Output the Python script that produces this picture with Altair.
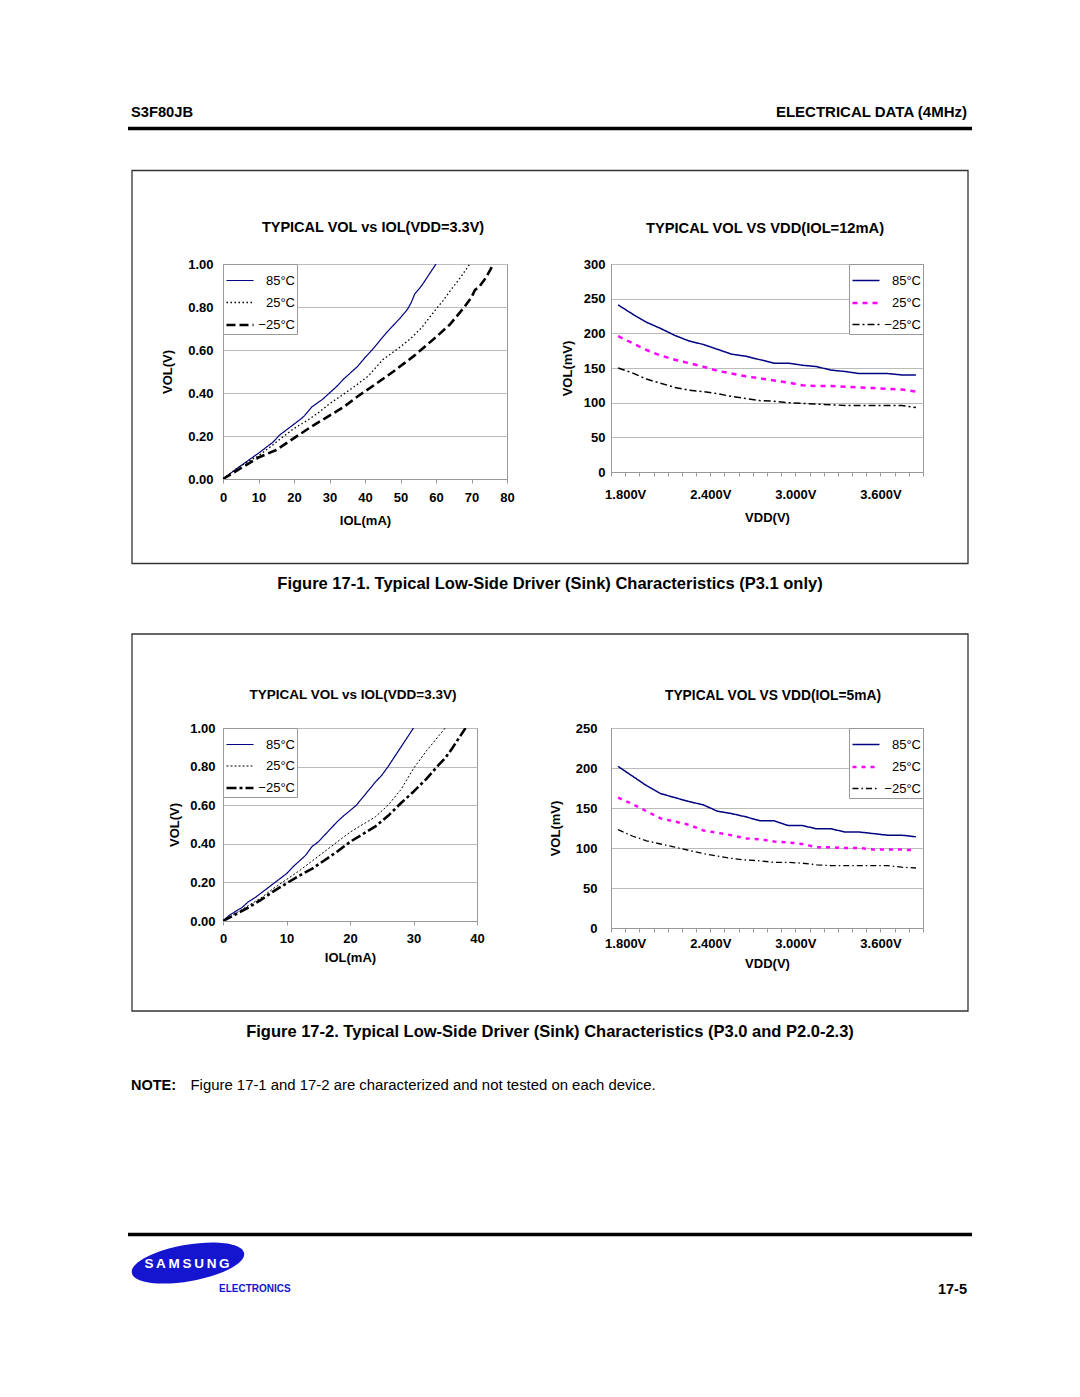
import altair as alt
import pandas as pd

FONT = "Liberation Sans"
TEMPS = ["85°C", "25°C", "−25°C"]

# ---------------- Figure 17-1 (left): VOL vs IOL, VDD=3.3V ----------------
F1L_IOL_85 = [0, 2, 4, 6, 8, 10, 12, 14, 16, 18, 20, 22, 23, 25, 28, 30, 32, 34, 36, 38,
              40, 42, 44, 46, 48, 50, 52, 53, 54, 56, 58, 60]
F1L_VOL_85 = [0, 0.025, 0.05, 0.073, 0.097, 0.12, 0.145, 0.17, 0.205, 0.23, 0.255, 0.28,
              0.295, 0.335, 0.37, 0.40, 0.43, 0.465, 0.495, 0.525, 0.565, 0.60, 0.64, 0.68,
              0.715, 0.75, 0.79, 0.82, 0.86, 0.90, 0.95, 1.0]
F1L_IOL_25 = [0, 4, 8, 10, 13, 16, 18, 20, 24, 27, 30, 34, 37, 41, 45, 50, 53, 56, 60, 62,
              64, 67, 69.5]
F1L_VOL_25 = [0, 0.05, 0.09, 0.108, 0.145, 0.185, 0.21, 0.235, 0.275, 0.31, 0.35, 0.395,
              0.43, 0.48, 0.555, 0.615, 0.655, 0.705, 0.79, 0.83, 0.875, 0.94, 1.0]
F1L_IOL_M25 = [0, 5, 10, 15, 20, 25, 30, 34, 38, 42, 48, 54, 60, 64, 66, 68, 70, 71, 72, 74, 76.2]
F1L_VOL_M25 = [0, 0.05, 0.10, 0.135, 0.19, 0.245, 0.295, 0.335, 0.385, 0.43, 0.50, 0.575,
               0.66, 0.72, 0.76, 0.80, 0.845, 0.88, 0.89, 0.935, 1.0]

# ---------------- VDD categories (both right-hand charts) ----------------
VDD = [1.8, 1.9, 2.0, 2.1, 2.2, 2.3, 2.4, 2.5, 2.6, 2.7, 2.8, 2.9, 3.0, 3.1, 3.2, 3.3,
       3.4, 3.5, 3.6, 3.7, 3.8, 3.9]
VDD_TICKS = [1.75, 1.85, 1.95, 2.05, 2.15, 2.25, 2.35, 2.45, 2.55, 2.65, 2.75, 2.85,
             2.95, 3.05, 3.15, 3.25, 3.35, 3.45, 3.55, 3.65, 3.75, 3.85, 3.95]
VDD_LABEL_AT = [1.85, 2.45, 3.05, 3.65]
VDD_LABELS = ["1.800V", "2.400V", "3.000V", "3.600V"]

# ---------------- Figure 17-1 (right): VOL vs VDD, IOL=12mA ----------------
F1R_85 = [241, 228, 216, 207, 197, 189, 184, 177, 170, 167, 162, 157, 157, 154, 152, 147,
          145, 142, 142, 142, 140, 140]
F1R_25 = [196, 186, 176, 168, 162, 157, 152, 146, 142, 138, 135, 132, 129, 125, 124, 124,
          123, 122, 121, 120, 119, 116]
F1R_M25 = [150, 143, 134, 128, 122, 118, 116, 113, 109, 106, 103, 102, 100, 99, 98, 97,
           96, 96, 96, 96, 96, 93]

# ---------------- Figure 17-2 (left): VOL vs IOL, VDD=3.3V ----------------
F2L_IOL_85 = [0, 1, 2, 3, 4, 5, 6, 7, 8, 9, 10, 11, 12, 13, 14, 15, 16, 17, 18, 19, 20,
              21, 22, 23, 24, 25, 26, 27, 28, 29, 30]
F2L_VOL_85 = [0, 0.03, 0.05, 0.07, 0.1, 0.12, 0.145, 0.17, 0.195, 0.22, 0.245, 0.28, 0.31,
              0.34, 0.385, 0.41, 0.445, 0.48, 0.515, 0.545, 0.572, 0.60, 0.64, 0.68, 0.72,
              0.755, 0.80, 0.85, 0.90, 0.95, 1.0]
F2L_IOL_25 = [0, 2, 4, 6, 8, 10, 12, 14, 16, 18, 20, 22, 24, 26, 28, 30, 32, 34, 35]
F2L_VOL_25 = [0, 0.04, 0.08, 0.12, 0.17, 0.215, 0.26, 0.31, 0.36, 0.41, 0.46, 0.50, 0.54,
              0.60, 0.68, 0.79, 0.88, 0.96, 1.0]
F2L_IOL_M25 = [0, 2, 4, 6, 8, 10, 12, 14, 16, 18, 20, 22, 24, 26, 28, 30, 32, 34, 35, 36,
               37, 38.2]
F2L_VOL_M25 = [0, 0.035, 0.07, 0.11, 0.155, 0.195, 0.235, 0.27, 0.315, 0.36, 0.41, 0.45,
               0.49, 0.545, 0.61, 0.67, 0.735, 0.81, 0.845, 0.89, 0.94, 1.0]

# ---------------- Figure 17-2 (right): VOL vs VDD, IOL=5mA ----------------
F2R_85 = [202, 190, 178, 168, 163, 158, 154, 146, 143, 139, 134, 134, 128, 128, 124, 124,
          120, 120, 118, 116, 116, 114]
F2R_25 = [163, 155, 146, 137, 133, 129, 122, 119, 116, 112, 111, 108, 107, 105, 101, 101,
          100, 100, 98, 98, 98, 97]
F2R_M25 = [123, 115, 109, 105, 101, 97, 93, 90, 87, 85, 84, 82, 82, 81, 79, 78, 78, 78,
           78, 78, 76, 75]

VOL_TICKS = [0, 0.2, 0.4, 0.6, 0.8, 1.0]
IOL80_TICKS = [0, 10, 20, 30, 40, 50, 60, 70, 80]
IOL40_TICKS = [0, 10, 20, 30, 40]
MV300_TICKS = [0, 50, 100, 150, 200, 250, 300]
MV250_TICKS = [0, 50, 100, 150, 200, 250]


def series_df(xs_list, ys_list):
    rows = []
    for t, xs, ys in zip(TEMPS, xs_list, ys_list):
        for a, b in zip(xs, ys):
            rows.append({"x": a, "y": b, "T": t})
    return pd.DataFrame(rows)


def axis(**kw):
    base = dict(labelFont=FONT, labelFontWeight="bold", labelColor="black",
                titleFont=FONT, titleFontWeight="bold", titleColor="black",
                domainColor="#999", tickColor="#999", gridColor="#bbb",
                labelFlush=False, labelOverlap=False)
    base.update(kw)
    return alt.Axis(**base)


def make_legend(orient):
    return alt.Legend(title=None, orient=orient, offset=0, padding=2,
                      fillColor="white", strokeColor="#999", symbolType="stroke",
                      symbolSize=729, labelFont=FONT, labelFontSize=13,
                      labelColor="black", labelAlign="right", labelOffset=40,
                      rowPadding=-7)


def line_chart(df, xenc, yenc, colors, dashes, widths, orient, w, h,
               title, tsize, toffset, tdx):
    leg = make_legend(orient)
    return alt.Chart(df).mark_line(clip=True, strokeCap="butt", strokeJoin="round").encode(
        x=xenc,
        y=yenc,
        color=alt.Color("T:N", scale=alt.Scale(domain=TEMPS, range=colors), legend=leg),
        strokeDash=alt.StrokeDash("T:N", scale=alt.Scale(domain=TEMPS, range=dashes),
                                  legend=leg),
        strokeWidth=alt.StrokeWidth("T:N", scale=alt.Scale(type="ordinal", domain=TEMPS,
                                                           range=widths), legend=leg),
    ).properties(
        width=w, height=h,
        title=alt.TitleParams(text=title, anchor="middle", frame="group", offset=toffset,
                              dx=tdx, baseline="alphabetic", font=FONT, fontSize=tsize,
                              fontWeight="bold", color="black"),
    )


def iol_x(maxv, ticks, lpad, tpad):
    return alt.X("x:Q", scale=alt.Scale(domain=[0, maxv], nice=False, zero=False),
                 axis=axis(values=ticks, format="d", grid=False, tickSize=4,
                           labelPadding=lpad, labelFontSize=13, title="IOL(mA)",
                           titleFontSize=13, titlePadding=tpad))


def vol_y(pad, tpad):
    return alt.Y("y:Q", scale=alt.Scale(domain=[0, 1], nice=False),
                 axis=axis(values=VOL_TICKS, format=".2f", grid=True, ticks=False,
                           labelPadding=pad, labelFontSize=13, title="VOL(V)",
                           titleFontSize=13, titlePadding=tpad))


VDD_EXPR = " : ".join(
    f"abs(datum.value - {v}) < 0.001 ? '{s}'" for v, s in zip(VDD_LABEL_AT, VDD_LABELS)
) + " : ''"


def vdd_x(lpad, tpad):
    return alt.X("x:Q", scale=alt.Scale(domain=[1.75, 3.95], nice=False, zero=False),
                 axis=axis(values=VDD_TICKS, labelExpr=VDD_EXPR, grid=False, tickSize=4,
                           labelPadding=lpad, labelFontSize=13, title="VDD(V)",
                           titleFontSize=13, titlePadding=tpad))


def mv_y(maxv, ticks, pad, tpad):
    return alt.Y("y:Q", scale=alt.Scale(domain=[0, maxv], nice=False),
                 axis=axis(values=ticks, format="d", grid=True, ticks=False,
                           labelPadding=pad, labelFontSize=13, title="VOL(mV)",
                           titleFontSize=13, titlePadding=tpad))


NAVY = "#000080"
MAGENTA = "#ff00ff"

c1 = line_chart(
    series_df([F1L_IOL_85, F1L_IOL_25, F1L_IOL_M25], [F1L_VOL_85, F1L_VOL_25, F1L_VOL_M25]),
    iol_x(80, IOL80_TICKS, 8, 10), vol_y(10, 13),
    [NAVY, "black", "black"], [[1, 0], [1.5, 2.5], [9, 4]], [1.2, 1.3, 2.6],
    "top-left", 284, 215, "TYPICAL VOL vs IOL(VDD=3.3V)", 14.5, 12, 8)

c2 = line_chart(
    series_df([VDD, VDD, VDD], [F1R_85, F1R_25, F1R_M25]),
    vdd_x(12, 10), mv_y(300, MV300_TICKS, 6, 9),
    [NAVY, MAGENTA, "black"], [[1, 0], [5, 5], [7, 3, 2, 3]], [1.5, 2.5, 1.5],
    "top-right", 312, 208, "TYPICAL VOL VS VDD(IOL=12mA)", 14.7, 10, -2)

c3 = line_chart(
    series_df([F2L_IOL_85, F2L_IOL_25, F2L_IOL_M25], [F2L_VOL_85, F2L_VOL_25, F2L_VOL_M25]),
    iol_x(40, IOL40_TICKS, 7, 6), vol_y(8, 8),
    [NAVY, "black", "black"], [[1, 0], [2, 2], [10, 3, 3, 3]], [1.2, 1.0, 2.6],
    "top-left", 254, 193, "TYPICAL VOL vs IOL(VDD=3.3V)", 13.5, 10, 3)

c4 = line_chart(
    series_df([VDD, VDD, VDD], [F2R_85, F2R_25, F2R_M25]),
    vdd_x(5, 7), mv_y(250, MV250_TICKS, 14, 13),
    [NAVY, MAGENTA, "black"], [[1, 0], [4, 5], [6, 3, 1.5, 3]], [1.5, 2.5, 1.3],
    "top-right", 312, 200, "TYPICAL VOL VS VDD(IOL=5mA)", 13.8, 8, 6)

# ---------------- page decorations (a separate 1x1 cell) ----------------
ROW_GAP, COL_GAP = 249, 104
DX0 = 223
DY0 = 264 + 215 + ROW_GAP + 200 + ROW_GAP

dummy = pd.DataFrame({"d": [0]})


def deco_text(s, X, Y, size, weight="normal", align="left", color="black"):
    return alt.Chart(dummy).mark_text(
        text=s, align=align, baseline="alphabetic", font=FONT, fontSize=size,
        fontWeight=weight, color=color,
    ).encode(x=alt.value(X - DX0), y=alt.value(Y - DY0))


def deco_hline(X1, X2, Y, w):
    return alt.Chart(dummy).mark_rule(color="black", strokeWidth=w, strokeCap="butt").encode(
        x=alt.value(X1 - DX0), x2=alt.value(X2 - DX0), y=alt.value(Y - DY0))


def deco_frame(X1, Y1, X2, Y2):
    return alt.Chart(dummy).mark_rect(fillOpacity=0, stroke="#333", strokeWidth=1.3).encode(
        x=alt.value(X1 - DX0), x2=alt.value(X2 - DX0),
        y=alt.value(Y1 - DY0), y2=alt.value(Y2 - DY0))


K = 0.32
KC = round(K * 0.5523, 4)
ELLIPSE = (f"M -1 0 C -1 {-KC} -0.5523 {-K} 0 {-K} C 0.5523 {-K} 1 {-KC} 1 0 "
           f"C 1 {KC} 0.5523 {K} 0 {K} C -0.5523 {K} -1 {KC} -1 0 Z")

bounds_rect = alt.Chart(dummy).mark_rect(opacity=0).encode(
    x=alt.value(8 - DX0), x2=alt.value(1068 - DX0),
    y=alt.value(8 - DY0), y2=alt.value(1380 - DY0))

logo = alt.Chart(dummy).mark_point(
    shape=ELLIPSE, size=114 * 114, filled=True, color="#1515d0", opacity=1,
    strokeWidth=0, angle=350,
).encode(x=alt.value(188 - DX0), y=alt.value(1263 - DY0))

deco = alt.layer(
    bounds_rect,
    deco_text("S3F80JB", 131, 117, 14.7, "bold"),
    deco_text("ELECTRICAL DATA (4MHz)", 967, 117, 15, "bold", "right"),
    deco_hline(128, 972, 128.5, 3.5),
    deco_frame(132, 170.5, 968, 563.5),
    deco_text("Figure 17-1. Typical Low-Side Driver (Sink) Characteristics (P3.1 only)",
              550, 589, 16.5, "bold", "center"),
    deco_frame(132, 634, 968, 1011),
    deco_text("Figure 17-2. Typical Low-Side Driver (Sink) Characteristics (P3.0 and P2.0-2.3)",
              550, 1037, 16.5, "bold", "center"),
    deco_text("NOTE:", 131, 1090, 14.5, "bold"),
    deco_text("Figure 17-1 and 17-2 are characterized and not tested on each device.",
              190.5, 1090, 14.9),
    deco_hline(128, 972, 1234.5, 3.5),
    logo,
    deco_text("S\u2009A\u2009M\u2009S\u2009U\u2009N\u2009G", 187, 1268, 13.5, "bold",
              "center", "white"),
    deco_text("ELECTRONICS", 219, 1292, 10, "bold", "left", "#1515d0"),
    deco_text("17-5", 967, 1294, 14.5, "bold", "right"),
).properties(width=1, height=1, view=alt.ViewBackground(strokeOpacity=0))

chart = alt.concat(
    c1, c2, c3, c4, deco,
    columns=2, spacing={"row": ROW_GAP, "column": COL_GAP},
    bounds="flush", align="each", padding=0,
).resolve_scale(
    color="independent", strokeDash="independent", strokeWidth="independent"
).configure_view(stroke="#999", strokeWidth=1)

chart.save("out.html", embed_options={"renderer": "svg", "actions": False})
